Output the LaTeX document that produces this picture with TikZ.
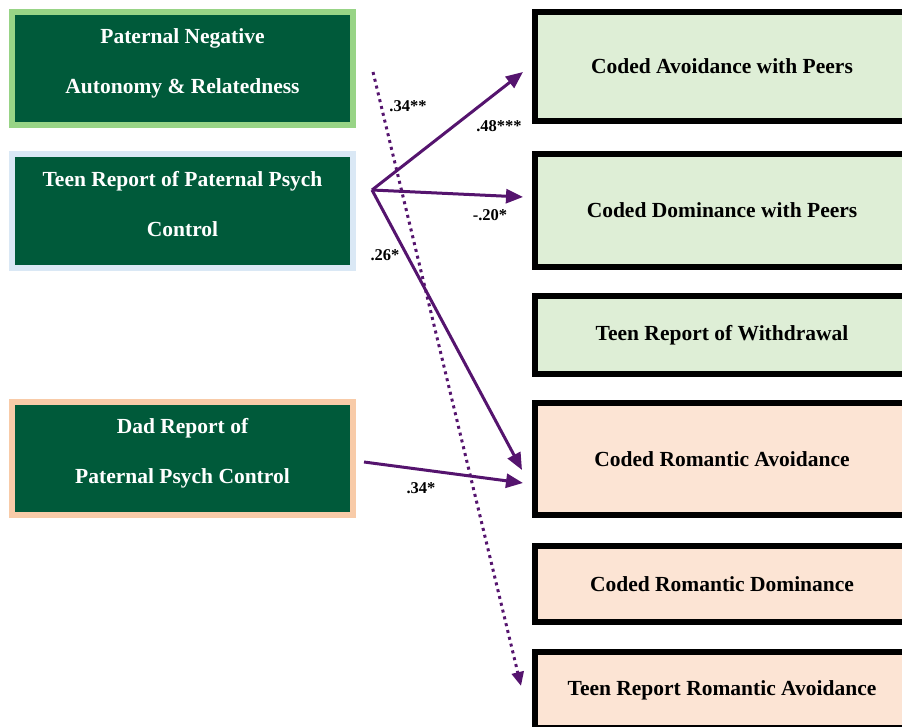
\documentclass[tikz,border=0pt]{standalone}
\usepackage{fontspec}
\setmainfont{Liberation Serif}
\usetikzlibrary{arrows.meta}
\definecolor{padark}{RGB}{0,90,58}
\definecolor{bordgreen}{RGB}{152,212,134}
\definecolor{bordblue}{RGB}{218,232,245}
\definecolor{bordpeach}{RGB}{248,203,168}
\definecolor{outgreen}{RGB}{222,238,214}
\definecolor{outpeach}{RGB}{252,228,212}
\definecolor{linkpurple}{RGB}{85,20,110}

\begin{document}
\begin{tikzpicture}[x=1pt,y=-1pt,
		predbox/.style={line width=6pt, fill=padark, text=white, minimum width=341pt, align=center, text depth=15pt, font=\bfseries\fontsize{21.5}{50}\selectfont},
		outbox/.style={draw=black, line width=6pt, minimum width=374pt, font=\bfseries\fontsize{21.5}{26}\selectfont},
		link/.style={draw=linkpurple, line width=3pt, -{Triangle[length=17pt,width=14pt]}},
		coef/.style={font=\bfseries\fontsize{16.5}{19}\selectfont}]
	\useasboundingbox (0,0) rectangle (902,727);
	\node[predbox, draw=bordgreen, minimum height=113pt] (pnar) at (182.5,68.5) {Paternal Negative\\Autonomy \& Relatedness};
	\node[predbox, draw=bordblue, minimum height=114pt] (teenpc) at (182.5,211) {Teen Report of Paternal Psych\\Control};
	\node[predbox, draw=bordpeach, minimum height=113pt] (dadpc) at (182.5,458.5) {Dad Report of\\Paternal Psych Control};
	\node[outbox, fill=outgreen, minimum height=109pt] (avpeer) at (722,66.5) {Coded Avoidance with Peers};
	\node[outbox, fill=outgreen, minimum height=113pt] (dompeer) at (722,210.5) {Coded Dominance with Peers};
	\node[outbox, fill=outgreen, minimum height=78pt] (withdraw) at (722,335) {Teen Report of Withdrawal};
	\node[outbox, fill=outpeach, minimum height=112pt] (romav) at (722,459) {Coded Romantic Avoidance};
	\node[outbox, fill=outpeach, minimum height=76pt] (romdom) at (722,584) {Coded Romantic Dominance};
	\node[outbox, fill=outpeach, minimum height=76pt] (teenromav) at (722,690) {Teen Report Romantic Avoidance};
	\coordinate (fork) at (372,190);
	\coordinate (dotstart) at (373,72);
	\coordinate (dadout) at (364,462);
	\coordinate (toav) at (523,72);
	\coordinate (todom) at (523,197);
	\coordinate (toromav) at (522,470);
	\coordinate (todad) at (523,483);
	\coordinate (toteen) at (521,686);
	\draw[link] (fork) -- (toav);
	\draw[link] (fork) -- (todom);
	\draw[link] (fork) -- (toromav);
	\draw[link] (dadout) -- (todad);
	\draw[link, dash pattern=on 3pt off 4pt, -{Triangle[length=14pt,width=12pt]}] (dotstart) -- (toteen);
	\node[coef] (c1) at (408,106) {.34**};
	\node[coef] (c2) at (499,126) {.48***};
	\node[coef] (c3) at (490,215) {-.20*};
	\node[coef] (c4) at (385,255) {.26*};
	\node[coef] (c5) at (421,488) {.34*};
\end{tikzpicture}
\end{document}
